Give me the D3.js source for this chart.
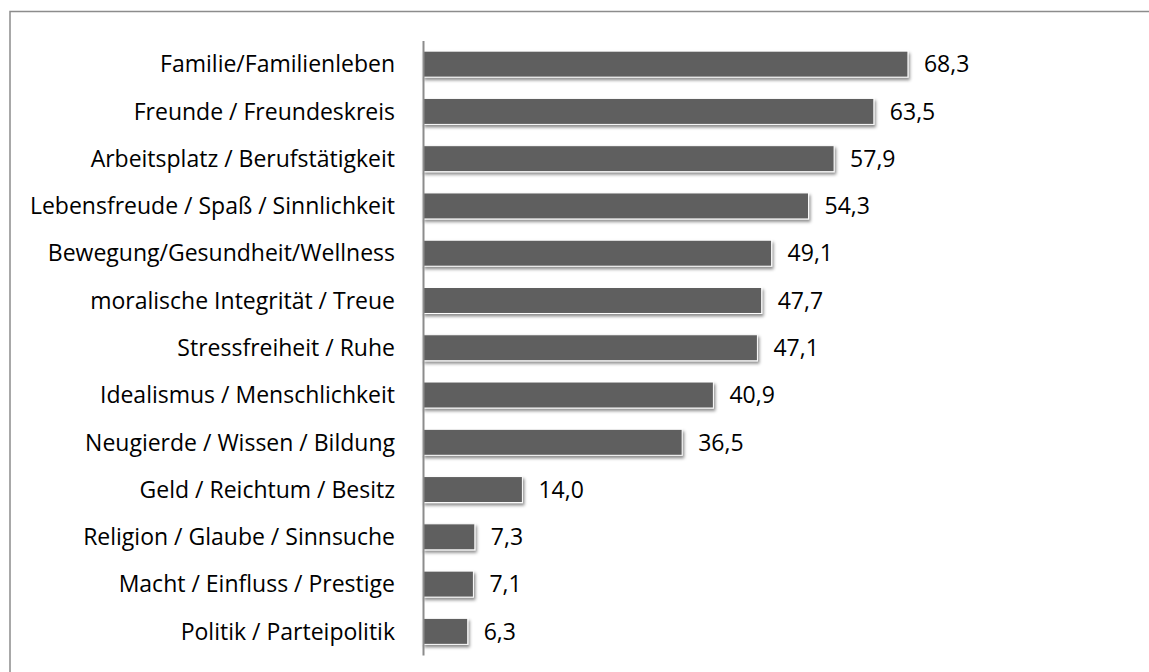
<!DOCTYPE html>
<html>
<head>
<meta charset="utf-8">
<script src="https://cdn.jsdelivr.net/npm/d3@7"></script>
<style>
  body { margin: 0; background: #fff; }
  svg { display: block; }
</style>
</head>
<body>
<svg id="chart" width="1149" height="672"></svg>
<script>
const categories = [
  'Familie/Familienleben',
  'Freunde / Freundeskreis',
  'Arbeitsplatz / Berufstätigkeit',
  'Lebensfreude / Spaß / Sinnlichkeit',
  'Bewegung/Gesundheit/Wellness',
  'moralische Integrität / Treue',
  'Stressfreiheit / Ruhe',
  'Idealismus / Menschlichkeit',
  'Neugierde / Wissen / Bildung',
  'Geld / Reichtum / Besitz',
  'Religion / Glaube / Sinnsuche',
  'Macht / Einfluss / Prestige',
  'Politik / Parteipolitik'
];
const values = [68.3, 63.5, 57.9, 54.3, 49.1, 47.7, 47.1, 40.9, 36.5, 14.0, 7.3, 7.1, 6.3];

const svg = d3.select('#chart');
const font = '"Open Sans", sans-serif';

// frame around the chart area (opens to the right / bottom)
svg.append('path')
    .attr('d', 'M10,672 V11.5 H1149')
    .attr('fill', 'none')
    .attr('stroke', '#8c8c8c')
    .attr('stroke-width', 1.5);

const defs = svg.append('defs');
const shadow = defs.append('filter')
    .attr('id', 'shadow')
    .attr('x', '-5%').attr('y', '-30%')
    .attr('width', '120%').attr('height', '180%');
shadow.append('feDropShadow')
    .attr('dx', 1.5).attr('dy', 2.5)
    .attr('stdDeviation', 1.8)
    .attr('flood-color', '#000')
    .attr('flood-opacity', 0.45);

const x0 = 423;
const x = d3.scaleLinear().domain([0, 100]).range([x0, x0 + 710]);
const y = d3.scaleBand()
    .domain(categories)
    .range([40.5, 655])
    .paddingInner(0.45)
    .paddingOuter(0.225);

const data = categories.map((c, i) => ({ name: c, value: values[i] }));

let g = svg.selectAll('g.bar').data(data)
    .enter()
    .append('g')
    .classed('bar', true);

g.append('rect')
    .attr('x', x(0))
    .attr('y', d => y(d.name))
    .attr('width', d => x(d.value) - x(0))
    .attr('height', y.bandwidth())
    .attr('fill', '#5f5f5f')
    .attr('stroke', '#fff')
    .attr('stroke-width', 1)
    .attr('filter', 'url(#shadow)');

g.append('text')
    .attr('x', d => x(d.value) + 16)
    .attr('y', d => y(d.name) + y.bandwidth() / 2)
    .attr('dy', '0.36em')
    .style('font-family', font)
    .style('font-size', '23px')
    .attr('fill', '#000')
    .text(d => d.value.toFixed(1).replace('.', ','));

// category axis
const axis = svg.append('g')
    .attr('transform', `translate(${x0},0)`)
    .call(d3.axisLeft(y).tickSize(0).tickPadding(28));
axis.select('.domain')
    .attr('stroke', '#8c8c8c')
    .attr('stroke-width', 2);
axis.selectAll('text')
    .attr('dy', '0.36em')
    .style('font-family', font)
    .style('font-size', '23px')
    .attr('fill', '#000');
</script>
</body>
</html>
